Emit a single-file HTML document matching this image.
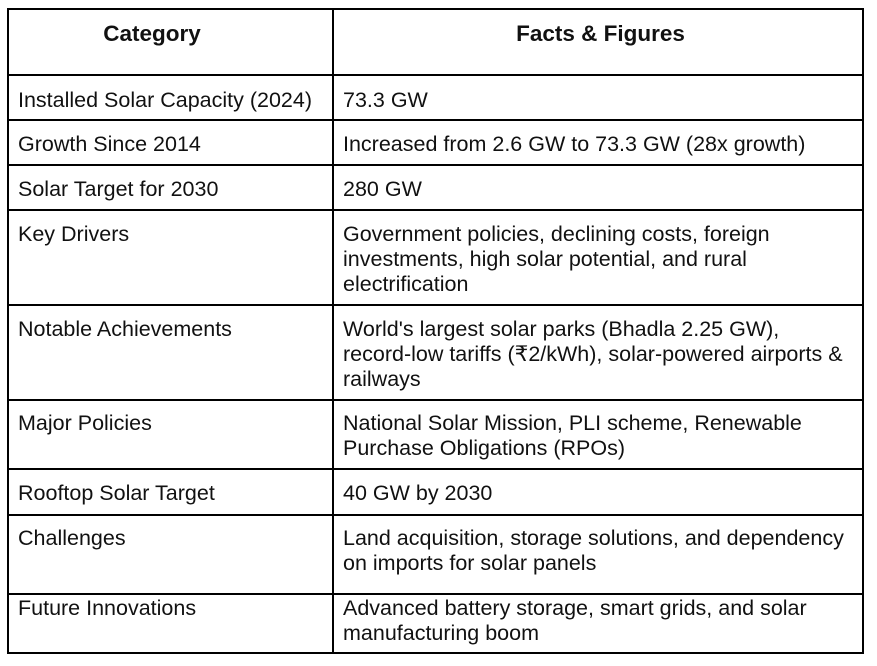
<!DOCTYPE html>
<html><head><meta charset="utf-8"><style>
body{margin:0;width:877px;height:666px;background:#fff;position:relative;font-family:"Liberation Sans",Arial,sans-serif;color:#111;overflow:hidden}
.h{position:absolute;background:#000;height:2px;left:7px;width:857px}
.v{position:absolute;background:#000;width:2px;top:8px;height:646px}
.t{position:absolute;font-size:21.5px;line-height:25px;white-space:nowrap}
.b{font-weight:bold;font-size:22.5px}
</style></head><body>
<div class="h" style="top:8px"></div>
<div class="h" style="top:74px"></div>
<div class="h" style="top:119px"></div>
<div class="h" style="top:164px"></div>
<div class="h" style="top:209px"></div>
<div class="h" style="top:304px"></div>
<div class="h" style="top:399px"></div>
<div class="h" style="top:468px"></div>
<div class="h" style="top:514px"></div>
<div class="h" style="top:593px"></div>
<div class="h" style="top:652px"></div>
<div class="v" style="left:7px"></div>
<div class="v" style="left:332px"></div>
<div class="v" style="left:862px"></div>

<div class="t b" style="left:8px;width:288px;text-align:center;top:21px">Category</div>
<div class="t b" style="left:336px;width:529px;text-align:center;top:21px">Facts &amp; Figures</div>

<div class="t" style="left:18px;top:88px">Installed Solar Capacity (2024)</div>
<div class="t" style="left:343px;top:88px">73.3 GW</div>
<div class="t" style="left:18px;top:132px">Growth Since 2014</div>
<div class="t" style="left:343px;top:132px">Increased from 2.6 GW to 73.3 GW (28x growth)</div>
<div class="t" style="left:18px;top:177px">Solar Target for 2030</div>
<div class="t" style="left:343px;top:177px">280 GW</div>
<div class="t" style="left:18px;top:222px">Key Drivers</div>
<div class="t" style="left:343px;top:222px">Government policies, declining costs, foreign<br>investments, high solar potential, and rural<br>electrification</div>
<div class="t" style="left:18px;top:317px">Notable Achievements</div>
<div class="t" style="left:343px;top:317px">World's largest solar parks (Bhadla 2.25 GW),<br>record-low tariffs (₹2/kWh), solar-powered airports &amp;<br>railways</div>
<div class="t" style="left:18px;top:411px">Major Policies</div>
<div class="t" style="left:343px;top:411px">National Solar Mission, PLI scheme, Renewable<br>Purchase Obligations (RPOs)</div>
<div class="t" style="left:18px;top:481px">Rooftop Solar Target</div>
<div class="t" style="left:343px;top:481px">40 GW by 2030</div>
<div class="t" style="left:18px;top:526px">Challenges</div>
<div class="t" style="left:343px;top:526px">Land acquisition, storage solutions, and dependency<br>on imports for solar panels</div>
<div class="t" style="left:18px;top:596px">Future Innovations</div>
<div class="t" style="left:343px;top:596px">Advanced battery storage, smart grids, and solar<br>manufacturing boom</div>
</body></html>
